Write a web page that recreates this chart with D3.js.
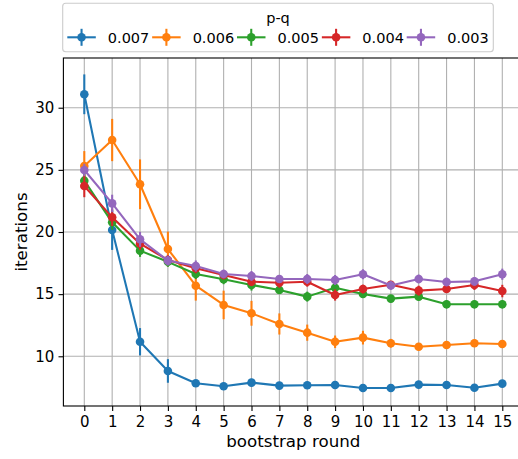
<!DOCTYPE html>
<html><head><meta charset="utf-8">
<script src="https://cdn.jsdelivr.net/npm/d3@7"></script>
<style>body{margin:0;background:#fff}svg{display:block}text{font-family:"DejaVu Sans",sans-serif;fill:#000}</style>
</head><body>
<svg id="c" width="518" height="459"></svg>
<script>
const rounds = d3.range(0, 16);
const seriesNames = ["0.007", "0.006", "0.005", "0.004", "0.003"];
const colors = ["#1f77b4", "#ff7f0e", "#2ca02c", "#d62728", "#9467bd"];
const yTicks = [10, 15, 20, 25, 30];
const legendTitle = "p-q";

const v007 = [31.08, 20.16, 11.17, 8.82, 7.83, 7.59, 7.88, 7.64, 7.67, 7.69, 7.45, 7.45, 7.72, 7.69, 7.47, 7.80];
const e007 = [1.6, 1.6, 1.1, 0.95, 0.25, 0.2, 0.3, 0.2, 0.2, 0.2, 0.15, 0.15, 0.2, 0.2, 0.15, 0.25];
const v006 = [25.31, 27.40, 23.84, 18.63, 15.68, 14.13, 13.46, 12.60, 11.90, 11.17, 11.50, 11.05, 10.77, 10.91, 11.05, 10.99];
const e006 = [1.2, 1.7, 2.0, 1.4, 1.2, 1.15, 1.0, 0.85, 0.65, 0.5, 0.55, 0.35, 0.3, 0.3, 0.3, 0.3];
const v005 = [24.13, 20.78, 18.50, 17.60, 16.62, 16.20, 15.74, 15.33, 14.80, 15.52, 15.01, 14.64, 14.80, 14.18, 14.18, 14.18];
const e005 = [0.6, 0.6, 0.5, 0.4, 0.4, 0.4, 0.45, 0.3, 0.4, 0.3, 0.3, 0.3, 0.3, 0.3, 0.3, 0.3];
const v004 = [23.70, 21.18, 19.06, 17.75, 17.08, 16.54, 16.00, 15.92, 16.00, 14.93, 15.41, 15.75, 15.28, 15.41, 15.74, 15.25];
const e004 = [0.9, 0.7, 0.5, 0.4, 0.4, 0.35, 0.35, 0.4, 0.4, 0.45, 0.35, 0.3, 0.4, 0.3, 0.4, 0.5];
const v003 = [24.99, 22.30, 19.41, 17.70, 17.26, 16.62, 16.46, 16.22, 16.22, 16.14, 16.60, 15.70, 16.22, 15.98, 16.03, 16.60];
const e003 = [0.5, 0.7, 0.6, 0.4, 0.45, 0.35, 0.4, 0.3, 0.4, 0.4, 0.4, 0.35, 0.35, 0.35, 0.35, 0.45];

const values = [v007, v006, v005, v004, v003];
const errors = [e007, e006, e005, e004, e003];

const M = {left: 63.4, top: 58, right: 523.2, bottom: 406};
const svg = d3.select("#c");
const x = d3.scaleLinear().domain([-0.75, 15.75]).range([M.left, M.right]);
const y = d3.scaleLinear().domain([6.0, 34.0]).range([M.bottom, M.top]);

// grid
const g = svg.append("g");
g.selectAll(".gx").data(rounds).enter().append("line")
  .attr("x1", d => x(d)).attr("x2", d => x(d)).attr("y1", M.top).attr("y2", M.bottom)
  .attr("stroke", "#b0b0b0").attr("stroke-width", 1.1);
g.selectAll(".gy").data(yTicks).enter().append("line")
  .attr("y1", d => y(d)).attr("y2", d => y(d)).attr("x1", M.left).attr("x2", M.right)
  .attr("stroke", "#b0b0b0").attr("stroke-width", 1.1);

// series
values.forEach((vals, si) => {
  const c = colors[si];
  const sg = svg.append("g");
  const pts = rounds.map(r => ({r, v: vals[r], e: errors[si][r]}));
  sg.selectAll("line.err").data(pts).enter().append("line")
    .attr("x1", d => x(d.r)).attr("x2", d => x(d.r))
    .attr("y1", d => y(d.v - d.e)).attr("y2", d => y(d.v + d.e))
    .attr("stroke", c).attr("stroke-width", 2.08);
  sg.append("path").datum(pts)
    .attr("d", d3.line().x(d => x(d.r)).y(d => y(d.v)))
    .attr("fill", "none").attr("stroke", c).attr("stroke-width", 2.08).attr("stroke-linejoin", "round");
  sg.selectAll("circle").data(pts).enter().append("circle")
    .attr("cx", d => x(d.r)).attr("cy", d => y(d.v)).attr("r", 4.3).attr("fill", c);
});

// axes
const xAxis = d3.axisBottom(x).tickValues(rounds).tickSize(4.9).tickPadding(5).tickFormat(d3.format("d"));
const yAxis = d3.axisLeft(y).tickValues(yTicks).tickSize(4.9).tickPadding(4.2).tickFormat(d3.format("d"));
const ax = svg.append("g").attr("transform", `translate(0,${M.bottom})`).call(xAxis);
const ay = svg.append("g").attr("transform", `translate(${M.left},0)`).call(yAxis);
[ax, ay].forEach(a => {
  a.select(".domain").remove();
  a.selectAll(".tick line").attr("stroke", "#000").attr("stroke-width", 1.1);
  a.selectAll(".tick text").attr("font-size", 15).attr("font-family", "DejaVu Sans").attr("fill", "#000");
});
// spines
svg.append("rect").attr("x", M.left).attr("y", M.top).attr("width", M.right - M.left).attr("height", M.bottom - M.top)
  .attr("fill", "none").attr("stroke", "#000").attr("stroke-width", 1.1);

svg.append("text").attr("x", (M.left + M.right) / 2).attr("y", 447).attr("text-anchor", "middle")
  .attr("font-size", 16.7).text("bootstrap round");
svg.append("text").attr("transform", `translate(27,${(M.top + M.bottom) / 2}) rotate(-90)`).attr("text-anchor", "middle")
  .attr("font-size", 16.7).text("iterations");

// legend
const L = svg.append("g");
L.append("rect").attr("x", 62.7).attr("y", 3.3).attr("width", 430.6).attr("height", 48.4).attr("rx", 3)
  .attr("fill", "#fff").attr("fill-opacity", 0.8).attr("stroke", "#cccccc").attr("stroke-width", 1.1);
L.append("text").attr("x", 278).attr("y", 22.5).attr("text-anchor", "middle").attr("font-size", 14.5).text(legendTitle);
seriesNames.forEach((name, i) => {
  const hx = 67.3 + i * 84.85;
  const hy = 37.3;
  const c = colors[i];
  L.append("line").attr("x1", hx).attr("x2", hx + 28.5).attr("y1", hy).attr("y2", hy).attr("stroke", c).attr("stroke-width", 2.08);
  L.append("line").attr("x1", hx + 14.25).attr("x2", hx + 14.25).attr("y1", hy - 8.5).attr("y2", hy + 8.5).attr("stroke", c).attr("stroke-width", 2.08);
  L.append("circle").attr("cx", hx + 14.25).attr("cy", hy).attr("r", 4.3).attr("fill", c);
  L.append("text").attr("x", hx + 40.5).attr("y", hy + 5.2).attr("font-size", 14.5).text(name);
});
</script>
</body></html>
